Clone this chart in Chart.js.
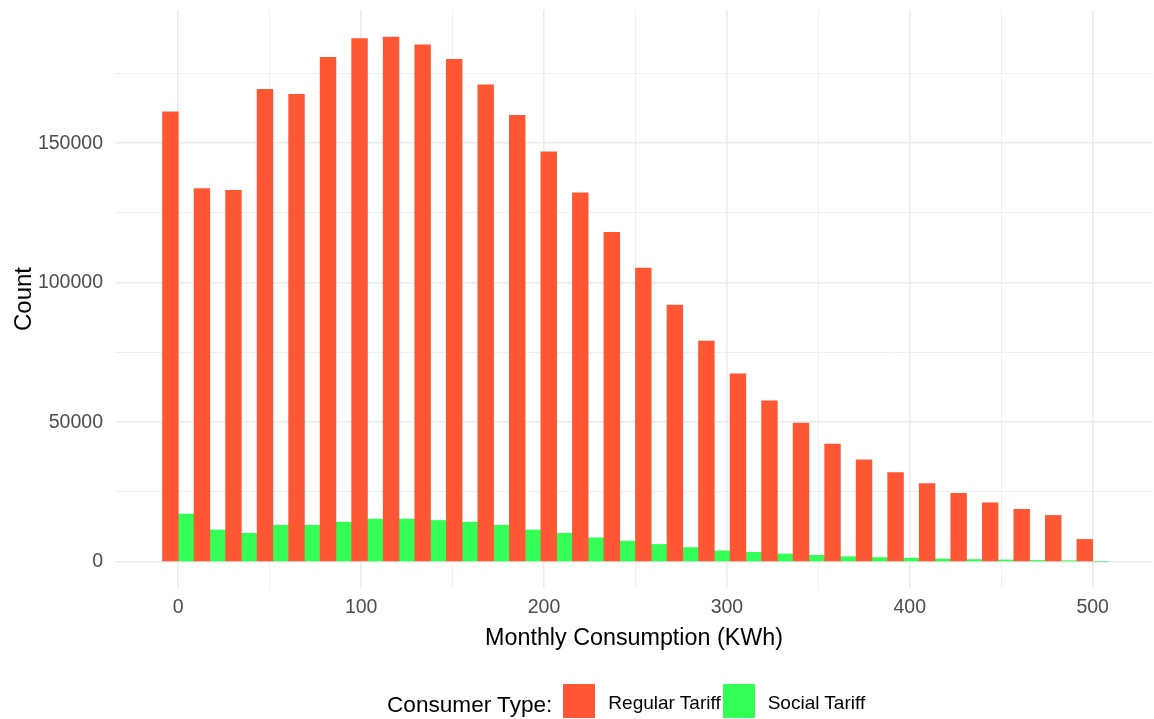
<!DOCTYPE html>
<html>
<head>
<meta charset="utf-8">
<script src="https://cdn.jsdelivr.net/npm/chart.js@4"></script>
<style>
  html, body { margin: 0; padding: 0; background: #fff; }
  #wrap { position: relative; width: 1154px; height: 719px; }
  #legend {
    position: absolute; left: 387px; top: 684px; height: 34px;
    display: flex; align-items: center;
    font-family: "Liberation Sans", Arial, sans-serif; color: #000;
  }
  #legend .title { font-size: 22.6px; margin-right: 11px; position: relative; top: 4px; }
  #legend .box { width: 32px; height: 34px; }
  #legend .lbl { font-size: 19px; margin-left: 13px; position: relative; top: 2px; }
  #legend .lbl + .box { margin-left: 2px; }
</style>
</head>
<body>
<div id="wrap">
  <canvas id="chart" width="1154" height="719"></canvas>
  <div id="legend"></div>
</div>
<script>
// bin centres (KWh), 30 bins from 0 to 500
const binCenters = [0, 17.24, 34.48, 51.72, 68.97, 86.21, 103.45, 120.69, 137.93, 155.17,
  172.41, 189.66, 206.90, 224.14, 241.38, 258.62, 275.86, 293.10, 310.34, 327.59,
  344.83, 362.07, 379.31, 396.55, 413.79, 431.03, 448.28, 465.52, 482.76, 500];

const regularTariff = [161200, 133700, 133100, 169300, 167500, 180700, 187500, 188000, 185200, 180000,
  170900, 160000, 146900, 132200, 118000, 105200, 92000, 79100, 67300, 57700,
  49700, 42200, 36500, 32000, 28000, 24500, 21100, 18800, 16600, 8000];

const socialTariff = [17100, 11400, 10200, 13100, 13100, 14200, 15300, 15300, 14800, 14200,
  13100, 11400, 10200, 8600, 7400, 6200, 5100, 3900, 3400, 2800,
  2300, 1800, 1500, 1300, 1000, 800, 650, 500, 400, 0];

const xGridTicks = [0, 50, 100, 150, 200, 250, 300, 350, 400, 450, 500];
const xLabelTicks = [0, 100, 200, 300, 400, 500];
const yGridTicks = [0, 25000, 50000, 75000, 100000, 125000, 150000, 175000];
const yLabelTicks = [0, 50000, 100000, 150000];

const seriesNames = ["Regular Tariff", "Social Tariff"];
const seriesColors = ["#FF5733", "#33FF57"];

const FONT = "'Liberation Sans', Arial, sans-serif";
const GRID = "#ebebeb";

function toPoints(values) {
  return binCenters.map((x, i) => ({ x: x, y: values[i] }));
}

// major gridlines where a label sits, thinner minor ones in between
function gridWidth(labels) {
  return c => (c.tick && labels.includes(c.tick.value)) ? 1.6 : 0.8;
}

// legend below the plot, built from the series names/colours
const legend = document.getElementById("legend");
legend.innerHTML = `<span class="title">Consumer Type:</span>` +
  seriesNames.map((name, i) =>
    `<span class="box" style="background:${seriesColors[i]}"></span><span class="lbl">${name}</span>`
  ).join("");

const ctx = document.getElementById("chart");

new Chart(ctx, {
  type: "bar",
  data: {
    datasets: [
      {
        label: seriesNames[0],
        data: toPoints(regularTariff),
        backgroundColor: seriesColors[0],
        borderWidth: 0,
        barPercentage: 1,
        categoryPercentage: 1
      },
      {
        label: seriesNames[1],
        data: toPoints(socialTariff),
        backgroundColor: seriesColors[1],
        borderWidth: 0,
        barPercentage: 1,
        categoryPercentage: 1
      }
    ]
  },
  options: {
    responsive: false,
    animation: false,
    layout: { padding: { left: 6, right: 1, top: 10, bottom: 62 } },
    plugins: {
      legend: { display: false },
      tooltip: { enabled: false }
    },
    scales: {
      x: {
        type: "linear",
        min: -34.6,
        max: 533,
        offset: false,
        border: { display: false },
        grid: {
          color: GRID,
          offset: false,
          drawTicks: false,
          lineWidth: gridWidth(xLabelTicks)
        },
        ticks: {
          autoSkip: false,
          maxRotation: 0,
          padding: 8,
          color: "#4d4d4d",
          font: { family: FONT, size: 19.5 },
          callback: v => xLabelTicks.includes(v) ? String(v) : ""
        },
        title: {
          display: true,
          text: "Monthly Consumption (KWh)",
          color: "#000",
          font: { family: FONT, size: 23.3 }
        },
        afterBuildTicks: s => { s.ticks = xGridTicks.map(v => ({ value: v })); },
        afterFit: s => { s.height = 69; s.paddingLeft = 0; s.paddingRight = 0; }
      },
      y: {
        type: "linear",
        min: -9400,
        max: 197700,
        border: { display: false },
        grid: {
          color: GRID,
          drawTicks: false,
          lineWidth: gridWidth(yLabelTicks)
        },
        ticks: {
          autoSkip: false,
          padding: 12,
          color: "#4d4d4d",
          font: { family: FONT, size: 19.5 },
          callback: v => yLabelTicks.includes(v) ? String(v) : ""
        },
        title: {
          display: true,
          text: "Count",
          color: "#000",
          font: { family: FONT, size: 24 }
        },
        afterBuildTicks: s => { s.ticks = yGridTicks.map(v => ({ value: v })); },
        afterFit: s => { s.width = 109; s.paddingTop = 0; s.paddingBottom = 0; }
      }
    }
  }
});
</script>
</body>
</html>
